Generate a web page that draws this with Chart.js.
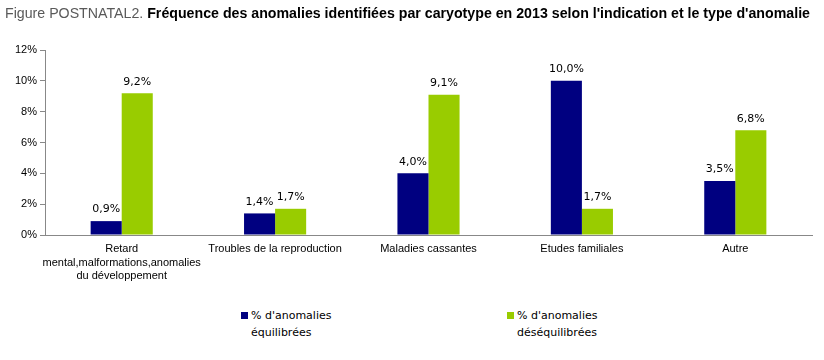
<!DOCTYPE html>
<html>
<head>
<meta charset="utf-8">
<script src="https://cdn.jsdelivr.net/npm/chart.js@4"></script>
<style>
  body { margin: 0; background: #fff; }
  #wrap { position: relative; width: 824px; height: 360px; }
  #title { position: absolute; left: 5px; top: 4px; font-family: "Liberation Sans", Arial, sans-serif; font-size: 15px; white-space: nowrap; transform-origin: 0 0; }
  #title .fig { color: #595959; }
  #title b { color: #000; }
  #chartBox { position: absolute; left: 0; top: 0; width: 824px; height: 290px; }
  .leg { position: absolute; font-family: "DejaVu Sans", Verdana, sans-serif; font-size: 11px; line-height: 17px; color: #000; }
  .leg i { position: absolute; left: -10px; top: 5px; width: 7px; height: 7px; }
</style>
</head>
<body>
<div id="wrap">
  <div id="chartBox"><canvas id="myChart"></canvas></div>
  <div id="title"><span class="fig">Figure POSTNATAL2.</span> <b>Fréquence des anomalies identifiées par caryotype en 2013 selon l'indication et le type d'anomalie</b></div>
  <div class="leg" style="left:251px; top:307px;"><i style="background:#000080"></i>% d'anomalies<br>équilibrées</div>
  <div class="leg" style="left:517px; top:307px;"><i style="background:#99CC00"></i>% d'anomalies<br>déséquilibrées</div>
</div>
<script>
// categories
var labels = [
  ['Retard', 'mental,malformations,anomalies', 'du développement'],
  'Troubles de la reproduction',
  'Maladies cassantes',
  'Etudes familiales',
  'Autre'
];
// % d'anomalies
var equilibrees = [0.9, 1.4, 4.0, 10.0, 3.5];
var desequilibrees = [9.2, 1.7, 9.1, 1.7, 6.8];
var yTicks = [0, 2, 4, 6, 8, 10, 12];

// squeeze the title to the narrow width of the original
var title = document.getElementById('title');
var tw = title.getBoundingClientRect().width;
if (tw > 805) title.style.transform = 'scaleX(' + (805 / tw) + ')';

function fmt(v) {
  return v.toFixed(1).replace('.', ',') + '%';
}

// labels above bars
var valueLabels = {
  id: 'valueLabels',
  afterDatasetsDraw: function(chart) {
    var ctx = chart.ctx;
    ctx.save();
    ctx.font = '11px "DejaVu Sans", Verdana, sans-serif';
    ctx.fillStyle = '#000';
    ctx.textAlign = 'center';
    ctx.textBaseline = 'bottom';
    chart.data.datasets.forEach(function(ds, i) {
      chart.getDatasetMeta(i).data.forEach(function(bar, j) {
        ctx.fillText(fmt(ds.data[j]), bar.x, bar.y - 6);
      });
    });
    ctx.restore();
  }
};

var data = {
  labels: labels,
  datasets: [{
    label: "% d'anomalies équilibrées",
    backgroundColor: '#000080',
    data: equilibrees
  }, {
    label: "% d'anomalies déséquilibrées",
    backgroundColor: '#99CC00',
    data: desequilibrees
  }]
};

var config = {
  type: 'bar',
  data: data,
  plugins: [valueLabels],
  options: {
    responsive: false,
    animation: false,
    devicePixelRatio: 1,
    layout: { padding: { top: 50, right: 12, left: 0, bottom: 0 } },
    datasets: { bar: { categoryPercentage: 0.405, barPercentage: 1 } },
    plugins: { legend: { display: false }, tooltip: { enabled: false } },
    scales: {
      x: {
        grid: { display: false },
        border: { color: '#888', width: 1 },
        ticks: { color: '#000', font: { family: '"Liberation Sans", Arial', size: 11, lineHeight: 1.25 }, maxRotation: 0, autoSkip: false, padding: -1 },
        afterFit: function(s) { s.height = 55; }
      },
      y: {
        min: 0, max: 12,
        afterBuildTicks: function(s) { s.ticks = yTicks.map(function(v) { return { value: v }; }); },
        grid: { drawOnChartArea: false, tickLength: 5, color: '#888' },
        border: { color: '#888', width: 1 },
        ticks: { color: '#000', font: { family: '"Liberation Sans", Arial', size: 11 }, padding: 3, callback: function(v) { return v + '%'; } },
        afterFit: function(s) { s.width = 45; }
      }
    }
  }
};

var canvas = document.getElementById('myChart');
canvas.width = 824; canvas.height = 290;
var myChart = new Chart(canvas, config);
</script>
</body>
</html>
